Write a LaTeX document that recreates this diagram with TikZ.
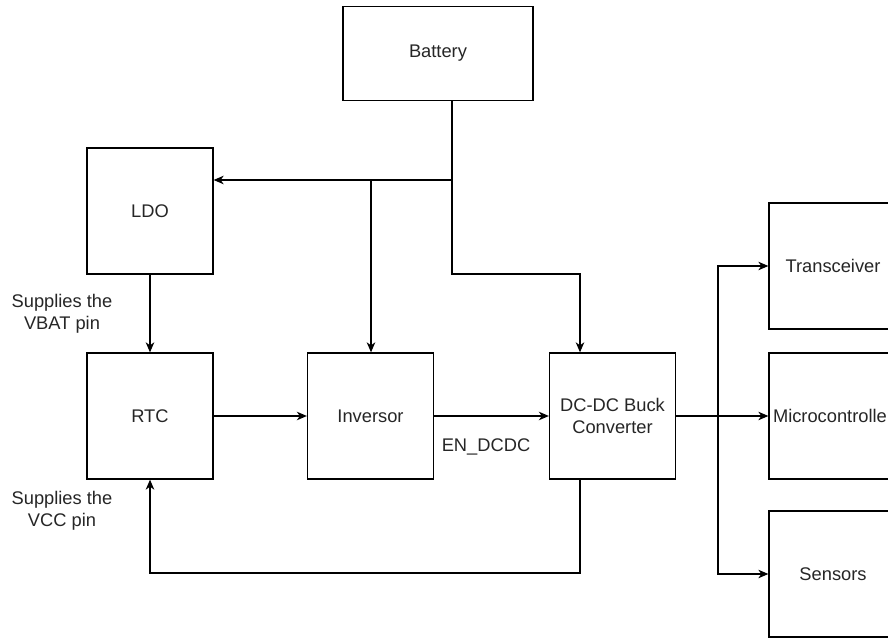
\documentclass[tikz,border=0pt]{standalone}
\usepackage{fontspec}
\setmainfont{Liberation Sans}
\usetikzlibrary{arrows.meta}
\begin{document}
\begin{tikzpicture}[x=1pt,y=-1pt,
  box/.style={draw=black, line width=1.3pt, minimum width=126pt, minimum height=126pt, inner sep=0pt, align=center, font=\fontsize{18.3}{21.5}\selectfont, text=black!85},
  lbl/.style={align=center, font=\fontsize{18.3}{22}\selectfont, text=black!85, inner sep=0pt},
  wire/.style={line width=1.3pt, draw=black},
  arr/.style={wire, -{Stealth[length=10pt,width=8.5pt,inset=3pt]}}]
\useasboundingbox (0,0) rectangle (888,639);
\fill[white] (0,0) rectangle (888,639);

\node[box, minimum width=190pt, minimum height=94pt] (bat) at (438,53.5) {Battery};
\node[box] (ldo) at (150,211) {LDO};
\node[box] (rtc) at (150,416) {RTC};
\node[box] (inv) at (370.5,416) {Inversor};
\node[box] (dcdc) at (612.5,416) {DC-DC Buck\\Converter};
\node[box, minimum width=128pt] (trans) at (833,266) {Transceiver};
\node[box, minimum width=128pt] (micro) at (833,416) {Microcontroller};
\node[box, minimum width=128pt] (sens) at (833,574) {Sensors};

\node[lbl] (vbat) at (62,314) {Supplies the\\VBAT pin};
\node[lbl] (vcc) at (62,511) {Supplies the\\VCC pin};
\node[lbl] (en) at (486,447) {EN\_DCDC};

\coordinate (j1) at (452,180);
\coordinate (j2) at (371,180);
\coordinate (j4) at (580,274);
\coordinate (jb) at (718,416);
\coordinate (fb) at (580,573);

\draw[wire, line width=2.4pt] (bat.south -| j1) -- (j1);
\draw[arr] (j1) -- (j1 -| ldo.east);
\draw[arr] (j2) -- (j2 |- inv.north);
\draw[arr] (j1) |- (j4) -- (j4 |- dcdc.north);
\draw[arr] (ldo) -- (rtc);
\draw[arr] (rtc) -- (inv);
\draw[arr] (inv) -- (dcdc);
\draw[arr] (dcdc) -- (micro);
\draw[arr] (jb) |- (trans.west);
\draw[arr] (jb) |- (sens.west);
\draw[arr] (dcdc.south -| fb) -- (fb) -| (rtc.south);
\end{tikzpicture}
\end{document}
